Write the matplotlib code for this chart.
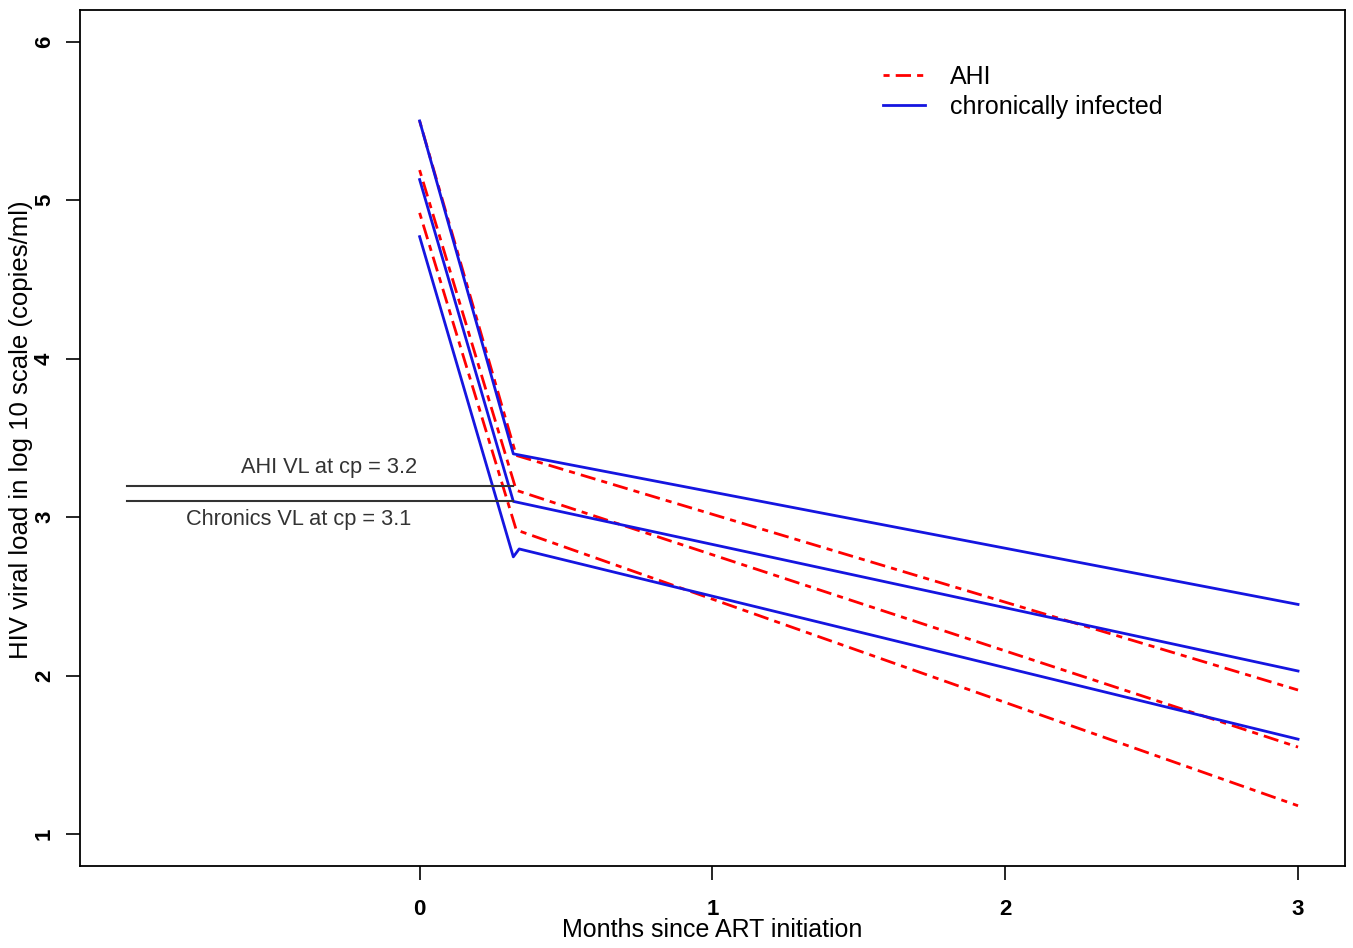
import matplotlib
matplotlib.use('Agg')
import matplotlib.pyplot as plt

plt.rcParams['font.family'] = ['Liberation Sans', 'DejaVu Sans']

# x positions: start, change point, end (months)
months_ahi = [0, 0.33, 3]
months_chr = [0, 0.32, 3]

# AHI (dash-dot red) curves
ahi_upper = [5.50, 3.39, 1.91]
ahi_mid = [5.19, 3.17, 1.55]
ahi_lower = [4.92, 2.92, 1.18]

# chronically infected (solid blue) curves
chr_upper = [5.50, 3.40, 2.45]
chr_mid = [5.13, 3.10, 2.03]
chr_lower_x = [0, 0.32, 0.34, 3]
chr_lower = [4.77, 2.75, 2.80, 1.60]

# change point reference lines
cp_x = [-1, 0.32]
cp_ahi = 3.2
cp_chr = 3.1

fig = plt.figure(figsize=(13.53, 9.48), dpi=100)
ax = fig.add_axes([0.0591, 0.0865, 0.9349, 0.903])

dd = (0, (2.2, 2.2, 5.5, 2.2))
ax.plot(months_ahi, ahi_upper, color='red', lw=2, linestyle=dd, label='AHI')
ax.plot(months_ahi, ahi_mid, color='red', lw=2, linestyle=dd)
ax.plot(months_ahi, ahi_lower, color='red', lw=2, linestyle=dd)

ax.plot(months_chr, chr_upper, color='#1515e0', lw=2, label='chronically infected')
ax.plot(months_chr, chr_mid, color='#1515e0', lw=2)
ax.plot(chr_lower_x, chr_lower, color='#1515e0', lw=2)

ax.plot(cp_x, [cp_ahi, cp_ahi], color='#333333', lw=1.5)
ax.plot(cp_x, [cp_chr, cp_chr], color='#333333', lw=1.5)
ax.text(-0.01, cp_ahi + 0.05, 'AHI VL at cp = 3.2', ha='right', va='bottom',
        fontsize=15.7, color='#333333')
ax.text(-0.03, cp_chr - 0.05, 'Chronics VL at cp = 3.1', ha='right', va='top',
        fontsize=15.7, color='#333333')

ax.set_xlim(-1.16, 3.16)
ax.set_ylim(0.8, 6.2)
ax.set_xticks([0, 1, 2, 3])
ax.set_yticks([1, 2, 3, 4, 5, 6])
ax.tick_params(axis='both', length=10, width=1.2, labelsize=16)
ax.tick_params(axis='x', pad=14)
ax.tick_params(axis='y', pad=8)
for lab in ax.get_xticklabels() + ax.get_yticklabels():
    lab.set_fontweight('bold')
for lab in ax.get_yticklabels():
    lab.set_rotation(90)
    lab.set_va('center')
for s in ax.spines.values():
    s.set_linewidth(1.3)

ax.set_xlabel('Months since ART initiation', fontsize=18, labelpad=-2)
ax.set_ylabel('HIV viral load in log 10 scale (copies/ml)', fontsize=18.5)
ax.yaxis.set_label_coords(-0.037, 0.51)

ax.legend(loc='upper left', bbox_to_anchor=(0.617, 0.962), frameon=False,
          fontsize=18, handlelength=1.7, handletextpad=1.0, labelspacing=0.25)

fig.savefig('out.png', dpi=100)
